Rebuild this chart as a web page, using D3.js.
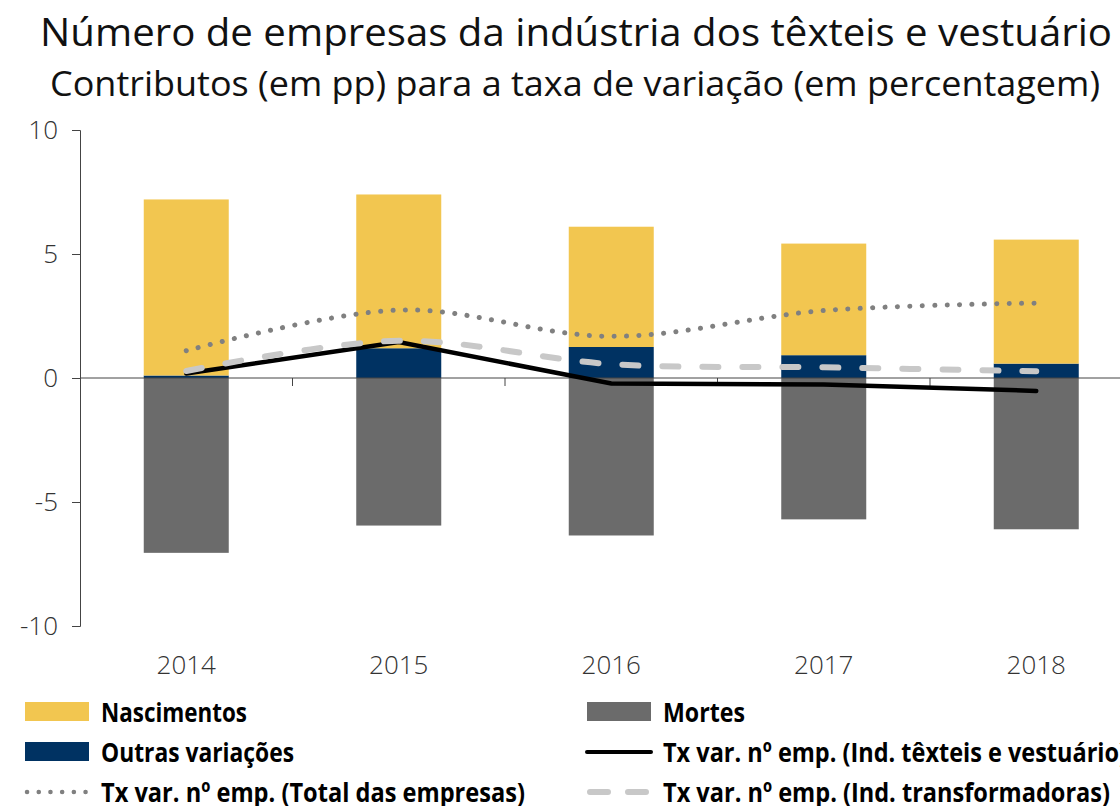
<!DOCTYPE html>
<html>
<head>
<meta charset="utf-8">
<script src="https://cdn.jsdelivr.net/npm/d3@7"></script>
<style>
  body { margin: 0; background: #fff; }
  svg text { font-family: "Open Sans", "Noto Sans", sans-serif; }
</style>
</head>
<body>
<div id="vis"></div>
<script>
const years = ["2014", "2015", "2016", "2017", "2018"];
const nascimentos = [7.1, 6.2, 4.85, 4.5, 5.0];
const outras = [0.1, 1.2, 1.25, 0.92, 0.58];
const mortes = [-7.05, -5.95, -6.35, -5.7, -6.1];
const txTexteis = [0.18, 1.45, -0.22, -0.26, -0.52];
const txTotal = [1.1, 2.74, 1.68, 2.72, 3.02];
const txTransf = [0.28, 1.5, 0.56, 0.43, 0.27];
const yTicks = [10, 5, 0, -5, -10];

const W = 1120, H = 806;
const svg = d3.select("#vis").append("svg").attr("width", W).attr("height", H);

svg.append("text").attr("x", 40).attr("y", 46)
  .attr("textLength", 1072).attr("lengthAdjust", "spacingAndGlyphs")
  .style("font-size", "39px").style("font-weight", 400).attr("fill", "#111")
  .text("Número de empresas da indústria dos têxteis e vestuário");
svg.append("text").attr("x", 50).attr("y", 96)
  .attr("textLength", 1050).attr("lengthAdjust", "spacingAndGlyphs")
  .style("font-size", "34px").style("font-weight", 400).attr("fill", "#111")
  .text("Contributos (em pp) para a taxa de variação (em percentagem)");

const x = d3.scaleBand().domain(years).range([80, 80 + 5 * 212.5]).paddingInner(0.6).paddingOuter(0.3);
const y = d3.scaleLinear().domain([-10, 10]).range([626, 130]);

// bars
const stackRows = years.map((yr, i) => ({ year: yr, outras: outras[i], nascimentos: nascimentos[i], mortes: mortes[i] }));
const g = svg.append("g");
stackRows.forEach(d => {
  g.append("rect").attr("x", x(d.year)).attr("width", x.bandwidth())
    .attr("y", y(d.outras)).attr("height", y(0) - y(d.outras)).attr("fill", "#003262");
  g.append("rect").attr("x", x(d.year)).attr("width", x.bandwidth())
    .attr("y", y(d.outras + d.nascimentos)).attr("height", y(d.outras) - y(d.outras + d.nascimentos)).attr("fill", "#F2C650");
  g.append("rect").attr("x", x(d.year)).attr("width", x.bandwidth())
    .attr("y", y(0)).attr("height", y(d.mortes) - y(0)).attr("fill", "#6B6B6B");
});

// axes
const yAxis = svg.append("g").attr("transform", "translate(80,0)")
  .call(d3.axisLeft(y).tickValues(yTicks).tickSize(8).tickFormat(d => String(d)));
yAxis.select(".domain").attr("stroke", "#444");
yAxis.selectAll(".tick line").attr("stroke", "#444");
yAxis.selectAll(".tick text").attr("x", -22).style("font-size", "26px").style("font-weight", 300)
  .attr("fill", "#333").style("font-family", "'Open Sans', sans-serif");

const step = x.step();
svg.append("line").attr("x1", 80).attr("x2", W).attr("y1", y(0)).attr("y2", y(0)).attr("stroke", "#444");
years.slice(1).forEach(yr => {
  const bx = x(yr) - x.paddingInner() * step / 2;
  svg.append("line").attr("x1", bx).attr("x2", bx).attr("y1", y(0)).attr("y2", y(0) + 8).attr("stroke", "#444");
});
svg.selectAll(".yr").data(years).join("text")
  .attr("x", d => x(d) + x.bandwidth() / 2).attr("y", 674).attr("text-anchor", "middle")
  .style("font-size", "26px").style("font-weight", 300).attr("fill", "#333").text(d => d);

// lines
const cx = (d, i) => x(years[i]) + x.bandwidth() / 2;
const straight = d3.line().x(cx).y(d => y(d));
const smooth = d3.line().x(cx).y(d => y(d)).curve(d3.curveCatmullRom.alpha(0.5));

svg.append("path").datum(txTotal).attr("d", smooth).attr("fill", "none")
  .attr("stroke", "#808080").attr("stroke-width", 5).attr("stroke-linecap", "round")
  .attr("stroke-dasharray", "0.1 12.3");
svg.append("path").datum(txTexteis).attr("d", straight).attr("fill", "none")
  .attr("stroke", "#000").attr("stroke-width", 4.5).attr("stroke-linecap", "round");
svg.append("path").datum(txTransf).attr("d", smooth).attr("fill", "none")
  .attr("stroke", "#C8C8C8").attr("stroke-width", 6).attr("stroke-linecap", "round")
  .attr("stroke-dasharray", "16 24");

// legend
const legend = [
  { label: "Nascimentos", type: "rect", color: "#F2C650", col: 0, row: 0, w: 146 },
  { label: "Mortes", type: "rect", color: "#6B6B6B", col: 1, row: 0, w: 82 },
  { label: "Outras variações", type: "rect", color: "#003262", col: 0, row: 1, w: 193 },
  { label: "Tx var. nº emp. (Ind. têxteis e vestuário)", type: "solid", color: "#000", col: 1, row: 1, w: 464 },
  { label: "Tx var. nº emp. (Total das empresas)", type: "dot", color: "#808080", col: 0, row: 2, w: 424 },
  { label: "Tx var. nº emp. (Ind. transformadoras)", type: "dash", color: "#C8C8C8", col: 1, row: 2, w: 447 }
];
const lx = [25, 587], ly = [712, 752, 792];
legend.forEach(l => {
  const x0 = lx[l.col], yc = ly[l.row];
  if (l.type === "rect") {
    svg.append("rect").attr("x", x0).attr("y", yc - 10).attr("width", 64).attr("height", 19).attr("fill", l.color);
  } else {
    const ln = svg.append("line").attr("x1", x0 + 2).attr("x2", x0 + 62).attr("y1", yc).attr("y2", yc)
      .attr("stroke", l.color).attr("stroke-linecap", "round");
    if (l.type === "solid") ln.attr("stroke-width", 4).attr("x1", x0).attr("x2", x0 + 64);
    if (l.type === "dot") ln.attr("stroke-width", 4.5).attr("stroke-dasharray", "0.1 11.6");
    if (l.type === "dash") ln.attr("stroke-width", 6).attr("stroke-dasharray", "18 20").attr("x1", x0 + 3);
  }
  svg.append("text").attr("x", x0 + 76).attr("y", yc + 10)
    .attr("textLength", l.w).attr("lengthAdjust", "spacingAndGlyphs")
    .style("font-family", "'Liberation Sans Narrow', 'Open Sans', sans-serif")
    .style("font-size", "27px").style("font-weight", 700).attr("fill", "#000").text(l.label);
});
</script>
</body>
</html>
